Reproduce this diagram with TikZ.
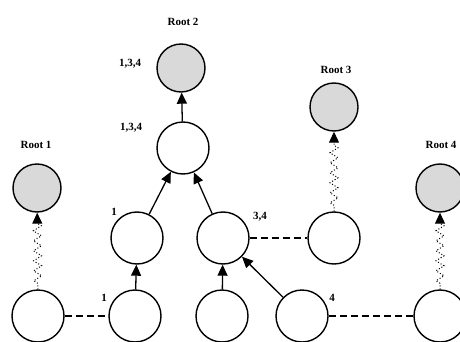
\documentclass[tikz,border=0pt]{standalone}
\usepackage{fontspec}
\setmainfont{Liberation Serif}
\usetikzlibrary{arrows.meta,decorations.pathmorphing}
\begin{document}
\begin{tikzpicture}[x=1pt,y=-1pt,
  nd/.style={circle,draw,line width=1.4pt,minimum size=52pt,inner sep=0pt},
  root/.style={circle,draw,line width=1.4pt,fill=gray!30,minimum size=48pt,inner sep=0pt},
  arr/.style={line width=1.3pt,-{Triangle[length=11pt,width=10pt]}},
  dashln/.style={line width=1.3pt,dash pattern=on 7pt off 4pt},
  squig/.style={line width=1pt,dotted,decorate,decoration={zigzag,amplitude=4pt,segment length=10pt,pre length=6pt,post length=10pt},-{Triangle[length=11pt,width=10pt]}},
  lbl/.style={font=\fontsize{11}{12}\selectfont\bfseries,inner sep=1pt}]
\useasboundingbox (0,0) rectangle (460,342);
% roots
\node[root] (r2) at (181,68) {};
\node[root] (r1) at (37,188) {};
\node[root] (r3) at (334,107) {};
\node[root] (r4) at (440,188) {};
% nodes
\node[nd] (a) at (183,148) {};
\node[nd] (m1) at (137,238) {};
\node[nd] (m2) at (223,238) {};
\node[nd] (m3) at (334,238) {};
\node[nd] (b1) at (38,316) {};
\node[nd] (b2) at (135,316) {};
\node[nd] (b3) at (222,316) {};
\node[nd] (b4) at (302,316) {};
\node[nd] (b5) at (440,316) {};
% labels
\node[lbl] (lr2) at (183,22) {Root 2};
\node[lbl] (lr1) at (36,145) {Root 1};
\node[lbl] (lr3) at (336,70) {Root 3};
\node[lbl] (lr4) at (441,145) {Root 4};
\node[lbl] (l134a) at (130,64) {1,3,4};
\node[lbl] (l134b) at (131,128) {1,3,4};
\node[lbl] (l1a) at (114,212) {1};
\node[lbl] (l1b) at (104,298) {1};
\node[lbl] (l34) at (260,217) {3,4};
\node[lbl] (l4) at (332,298) {4};
% edges
\draw[dashln] (b1) -- (b2);
\draw[dashln] (b4) -- (b5);
\draw[dashln] (m2) -- (m3);
\draw[arr] (b2) -- (m1);
\draw[arr] (b3) -- (m2);
\draw[arr] (b4) -- (m2);
\draw[arr] (m1) -- (a);
\draw[arr] (m2) -- (a);
\draw[arr] (a) -- (r2);
\draw[squig] (b1) -- (r1);
\draw[squig] (m3) -- (r3);
\draw[squig] (b5) -- (r4);
\end{tikzpicture}
\end{document}
